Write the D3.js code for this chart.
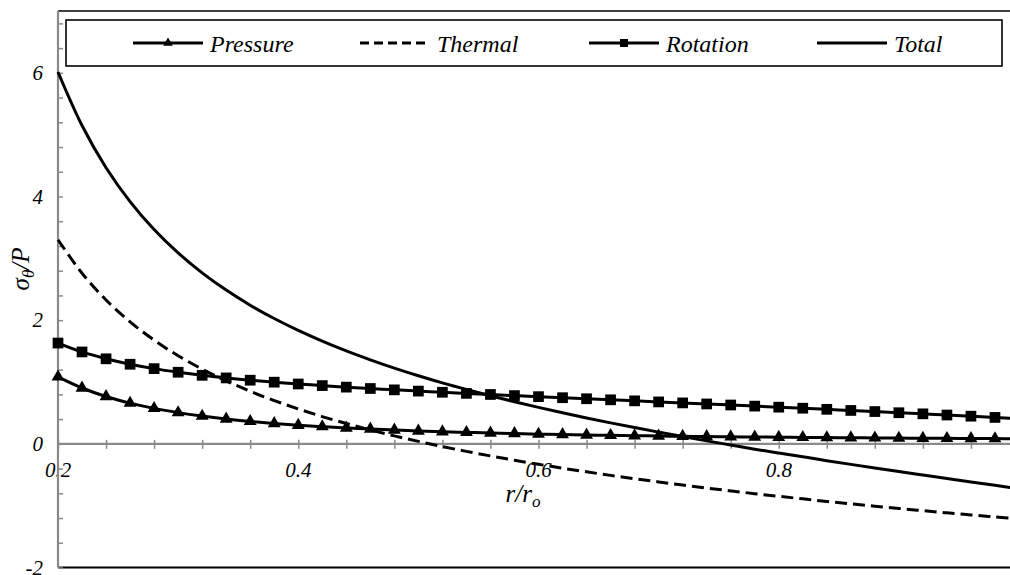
<!DOCTYPE html>
<html><head><meta charset="utf-8">
<script src="https://cdn.jsdelivr.net/npm/d3@7"></script>
<style>
body{margin:0;background:#fff}
svg{display:block}
text{font-family:"Liberation Serif","Times New Roman",serif;font-style:italic;fill:#000}
</style>
</head><body>
<svg id="chart" width="1010" height="575"></svg>
<script>
// ---- data ----
const radius = [0.20,0.22,0.24,0.26,0.28,0.30,0.32,0.34,0.36,0.38,0.40,0.42,0.44,0.46,0.48,0.50,0.52,0.54,0.56,0.58,0.60,0.62,0.64,0.66,0.68,0.70,0.72,0.74,0.76,0.78,0.80,0.82,0.84,0.86,0.88,0.90,0.92,0.94,0.96,0.98,1.00];
const pressure = [1.083,0.903,0.765,0.658,0.573,0.505,0.449,0.402,0.363,0.330,0.302,0.278,0.257,0.239,0.223,0.208,0.196,0.185,0.175,0.166,0.157,0.150,0.143,0.137,0.132,0.127,0.122,0.118,0.114,0.110,0.107,0.104,0.101,0.098,0.096,0.093,0.091,0.089,0.087,0.085,0.083];
const thermal = [3.301,2.759,2.326,1.973,1.677,1.425,1.208,1.018,0.850,0.700,0.565,0.441,0.329,0.225,0.129,0.040,-0.044,-0.122,-0.195,-0.265,-0.331,-0.394,-0.453,-0.510,-0.564,-0.616,-0.667,-0.715,-0.761,-0.806,-0.849,-0.890,-0.931,-0.970,-1.008,-1.045,-1.081,-1.116,-1.150,-1.183,-1.215];
const rotation = [1.630,1.486,1.375,1.287,1.216,1.158,1.108,1.066,1.029,0.997,0.968,0.942,0.917,0.895,0.873,0.853,0.834,0.816,0.798,0.780,0.763,0.746,0.729,0.712,0.695,0.678,0.662,0.645,0.628,0.610,0.593,0.576,0.558,0.540,0.522,0.503,0.485,0.466,0.447,0.427,0.407];
const total = [6.014,5.148,4.466,3.918,3.466,3.088,2.765,2.486,2.242,2.027,1.835,1.661,1.503,1.359,1.225,1.101,0.986,0.879,0.778,0.681,0.589,0.502,0.419,0.339,0.263,0.189,0.117,0.048,-0.019,-0.086,-0.149,-0.210,-0.272,-0.332,-0.391,-0.449,-0.505,-0.561,-0.616,-0.671,-0.725];
const seriesNames = ["Pressure","Thermal","Rotation","Total"];
const xTickLabels = [0.2,0.4,0.6,0.8];
const yTickLabels = [-2,0,2,4,6];

// ---- layout ----
const svg = d3.select("#chart");
const X0 = 58, X1 = 1019, Y0 = 11, Y1 = 567.5;
const x = d3.scaleLinear().domain([0.2,1.0]).range([X0,X1]);
const y = d3.scaleLinear().domain([-2,7]).range([Y1,Y0]);
const grey = "#8a8a8a";

// tick labels (drawn under the axes/series)
svg.append("g").selectAll("text").data(xTickLabels).join("text")
  .attr("x", d=>x(d)).attr("y", y(0)+33)
  .attr("text-anchor","middle").attr("font-size",21)
  .text(d=>d3.format(".1f")(d));
svg.append("g").selectAll("text").data(yTickLabels).join("text")
  .attr("x", X0-15).attr("y", d=>y(d)+7)
  .attr("text-anchor","end").attr("font-size",21)
  .text(d=>d);

// axis titles
const yt = svg.append("text").attr("transform",`translate(29,${269}) rotate(-90)`)
  .attr("text-anchor","middle").attr("font-size",25);
yt.append("tspan").text("σ");
yt.append("tspan").attr("font-size",17).attr("dy",5).text("θ");
yt.append("tspan").attr("dy",-5).text("/P");
const xt = svg.append("text").attr("x",523).attr("y",502)
  .attr("text-anchor","middle").attr("font-size",25);
xt.append("tspan").text("r/r");
xt.append("tspan").attr("font-size",17).attr("dy",5).text("o");

// frame lines
svg.append("line").attr("x1",X0).attr("x2",1010).attr("y1",Y0).attr("y2",Y0)
  .attr("stroke","#000").attr("stroke-width",1.6);
svg.append("line").attr("x1",X0).attr("x2",1010).attr("y1",Y1).attr("y2",Y1)
  .attr("stroke","#000").attr("stroke-width",2);

// y axis: inside ticks every 0.4
const yAxis = d3.axisRight(y).tickValues(d3.range(-2,7.01,0.4)).tickSize(5).tickFormat("");
const gy = svg.append("g").attr("transform",`translate(${X0},0)`).call(yAxis);
gy.select(".domain").remove();
gy.selectAll(".tick line").attr("stroke",grey).attr("stroke-width",1.5);
svg.append("line").attr("x1",X0).attr("x2",X0).attr("y1",Y0).attr("y2",Y1)
  .attr("stroke",grey).attr("stroke-width",2.2);

// x axis at y=0: crossing ticks every 0.04
const xAxis = d3.axisBottom(x).tickValues(d3.range(0.2,1.0001,0.04)).tickSize(4).tickFormat("");
const gx = svg.append("g").attr("transform",`translate(0,${y(0)})`).call(xAxis);
gx.select(".domain").remove();
gx.selectAll(".tick line").attr("y1",-4).attr("y2",5).attr("stroke",grey).attr("stroke-width",1.5);
svg.append("line").attr("x1",X0).attr("x2",1010).attr("y1",y(0)).attr("y2",y(0))
  .attr("stroke",grey).attr("stroke-width",2.2);

// series
const line = d3.line().x((d,i)=>x(radius[i])).y(d=>y(d)).curve(d3.curveCatmullRom);
const series = [
  {name:"Pressure", values:pressure, dash:null, marker:d3.symbolTriangle, size:72},
  {name:"Thermal", values:thermal, dash:"12,6", marker:null},
  {name:"Rotation", values:rotation, dash:null, marker:d3.symbolSquare, size:115},
  {name:"Total", values:total, dash:null, marker:null}
];
const gs = svg.append("g");
series.forEach(s=>{
  gs.append("path").attr("d",line(s.values)).attr("fill","none")
    .attr("stroke","#000").attr("stroke-width",3)
    .attr("stroke-dasharray",s.dash);
  if(s.marker){
    gs.append("g").selectAll("path").data(s.values).join("path")
      .attr("transform",(d,i)=>`translate(${x(radius[i])},${y(d)})`)
      .attr("d",d3.symbol().type(s.marker).size(s.size)).attr("fill","#000");
  }
});

// legend
const lg = svg.append("g");
lg.append("rect").attr("x",66).attr("y",20).attr("width",936).attr("height",46)
  .attr("fill","#fff").attr("stroke","#000").attr("stroke-width",1.6);
const legX = [133,360,589,817];
series.forEach((s,i)=>{
  const lx = legX[i];
  lg.append("line").attr("x1",lx).attr("x2",lx+70).attr("y1",43).attr("y2",43)
    .attr("stroke","#000").attr("stroke-width",3)
    .attr("stroke-dasharray", s.dash ? "9,5" : null);
  if(s.marker){
    lg.append("path").attr("transform",`translate(${lx+35},43)`)
      .attr("d",d3.symbol().type(s.marker).size(s.size*0.55)).attr("fill","#000");
  }
  lg.append("text").attr("x",lx+77).attr("y",52).attr("font-size",24).text(seriesNames[i]);
});
</script>
</body></html>
